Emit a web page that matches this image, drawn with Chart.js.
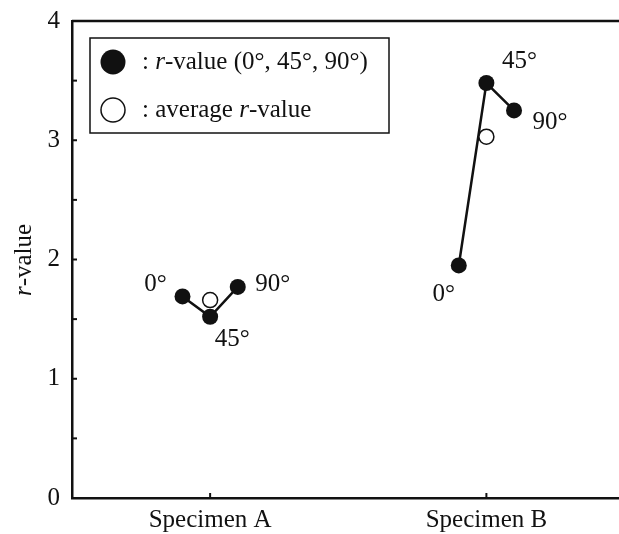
<!DOCTYPE html>
<html>
<head>
<meta charset="utf-8">
<script src="https://cdn.jsdelivr.net/npm/chart.js@4.4.0/dist/chart.umd.min.js"></script>
<style>
  html, body { margin: 0; padding: 0; background: #fff; overflow: hidden; }
  canvas { display: block; }
</style>
</head>
<body>
<canvas id="chart" width="619" height="534" style="width:619px;height:534px"></canvas>
<script>
const specimens = ['Specimen A', 'Specimen B'];
const angles = ['0°', '45°', '90°'];
const rA = [1.69, 1.52, 1.77];
const rB = [1.95, 3.48, 3.25];
const rAverage = [1.66, 3.03];
const yTicks = [0, 1, 2, 3, 4];

const FONT = '"Liberation Serif", "Times New Roman", serif';
const SIZE = 25;
const spread = 0.1;

function anglePoints(values, idx) {
    return values.map((v, j) => ({ x: idx + 1 + (j - 1) * spread, y: v }));
}

// where each angle label sits relative to its point (px)
const labelOffsets = [
    [[-27, -12], [22, 23], [35, -2]],
    [[-15, 29], [33, -22], [36, 12]]
];

const extras = {
    id: 'extras',
    afterDraw(chart) {
        const ctx = chart.ctx;
        const area = chart.chartArea;
        const xs = chart.scales.x;
        const ys = chart.scales.y;
        ctx.save();
        ctx.strokeStyle = '#111';
        ctx.lineWidth = 2.5;
        // top frame line
        ctx.beginPath();
        ctx.moveTo(area.left, area.top);
        ctx.lineTo(area.right, area.top);
        ctx.stroke();
        // inward ticks on y
        ctx.lineWidth = 2;
        for (let v = 0.5; v < 4; v += 0.5) {
            const py = ys.getPixelForValue(v);
            ctx.beginPath();
            ctx.moveTo(area.left, py);
            ctx.lineTo(area.left + 5, py);
            ctx.stroke();
        }
        // inward ticks on x
        specimens.forEach((_, i) => {
            const px = xs.getPixelForValue(i + 1);
            ctx.beginPath();
            ctx.moveTo(px, area.bottom);
            ctx.lineTo(px, area.bottom - 5);
            ctx.stroke();
        });

        // angle labels
        ctx.fillStyle = '#111';
        ctx.font = SIZE + 'px ' + FONT;
        ctx.textAlign = 'center';
        ctx.textBaseline = 'middle';
        [rA, rB].forEach((vals, i) => {
            const meta = chart.getDatasetMeta(i + 1);
            meta.data.forEach((pt, j) => {
                const off = labelOffsets[i][j];
                ctx.fillText(angles[j], pt.x + off[0], pt.y + off[1]);
            });
        });

        // y axis title
        ctx.save();
        ctx.translate(24, 260);
        ctx.rotate(-Math.PI / 2);
        drawMixed(ctx, [['r', true], ['-value', false]], 0, 0, SIZE, 'center');
        ctx.restore();

        // legend
        const lx = 90, ly = 38, lw = 299, lh = 95;
        ctx.lineWidth = 1.5;
        ctx.strokeRect(lx, ly, lw, lh);
        ctx.beginPath();
        ctx.arc(113, 62, 12.5, 0, Math.PI * 2);
        ctx.fillStyle = '#111';
        ctx.fill();
        ctx.beginPath();
        ctx.arc(113, 110, 12, 0, Math.PI * 2);
        ctx.fillStyle = '#fff';
        ctx.fill();
        ctx.lineWidth = 1.5;
        ctx.stroke();
        drawMixed(ctx, [[': ', false], ['r', true], ['-value (0°, 45°, 90°)', false]], 142, 62, SIZE, 'left');
        drawMixed(ctx, [[': average ', false], ['r', true], ['-value', false]], 142, 110, SIZE, 'left');
        ctx.restore();
    }
};

function drawMixed(ctx, parts, x, y, size, align) {
    ctx.textAlign = 'left';
    ctx.textBaseline = 'middle';
    ctx.fillStyle = '#111';
    let total = 0;
    parts.forEach(([t, it]) => {
        ctx.font = (it ? 'italic ' : '') + size + 'px ' + FONT;
        total += ctx.measureText(t).width;
    });
    let cx = align === 'center' ? x - total / 2 : x;
    parts.forEach(([t, it]) => {
        ctx.font = (it ? 'italic ' : '') + size + 'px ' + FONT;
        ctx.fillText(t, cx, y);
        cx += ctx.measureText(t).width;
    });
}

const lineStyle = {
    showLine: true,
    borderColor: '#111',
    borderWidth: 2.5,
    pointRadius: 8,
    pointBackgroundColor: '#111',
    pointBorderWidth: 0,
    fill: false
};

new Chart(document.getElementById('chart'), {
    type: 'scatter',
    data: {
        datasets: [
            {
                label: 'average r-value',
                data: rAverage.map((v, i) => ({ x: i + 1, y: v })),
                pointRadius: 7.5,
                pointBackgroundColor: '#fff',
                pointBorderColor: '#111',
                pointBorderWidth: 1.5
            },
            Object.assign({ label: specimens[0], data: anglePoints(rA, 0) }, lineStyle),
            Object.assign({ label: specimens[1], data: anglePoints(rB, 1) }, lineStyle)
        ]
    },
    options: {
        responsive: false,
        animation: false,
        layout: { autoPadding: false, padding: { top: 21, right: 0, left: 0, bottom: 0 } },
        plugins: { legend: { display: false }, tooltip: { enabled: false } },
        scales: {
            x: {
                type: 'linear',
                min: 0.5,
                max: 2.48,
                afterBuildTicks: (scale) => { scale.ticks = specimens.map((_, i) => ({ value: i + 1 })); },
                afterFit: (scale) => {
                    scale.height = 36;
                    scale.paddingLeft = 0;
                    scale.paddingRight = 0;
                },
                grid: { display: false, drawTicks: false },
                border: { display: true, color: '#111', width: 2.5 },
                ticks: {
                    color: '#111',
                    font: { family: FONT, size: SIZE },
                    padding: 7,
                    maxRotation: 0,
                    callback: (v) => specimens[v - 1] || ''
                }
            },
            y: {
                min: 0,
                max: 4,
                afterBuildTicks: (scale) => { scale.ticks = yTicks.map(v => ({ value: v })); },
                afterFit: (scale) => {
                    scale.width = 72;
                    scale.paddingTop = 0;
                    scale.paddingBottom = 0;
                },
                grid: { display: false, drawTicks: false },
                border: { display: true, color: '#111', width: 2.5 },
                ticks: {
                    color: '#111',
                    font: { family: FONT, size: SIZE },
                    padding: 12
                }
            }
        }
    },
    plugins: [extras]
});
</script>
</body>
</html>
